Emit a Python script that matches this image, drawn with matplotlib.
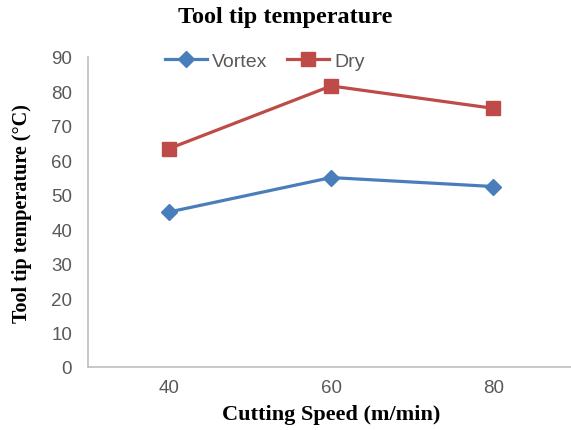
import matplotlib
matplotlib.use("Agg")
import matplotlib.pyplot as plt

speeds = ["40", "60", "80"]
vortex = [45.0, 55.0, 52.4]
dry = [63.4, 81.6, 75.1]
y_ticks = [0, 10, 20, 30, 40, 50, 60, 70, 80, 90]

fig = plt.figure(figsize=(5.71, 4.31), dpi=100)
ax = fig.add_axes([88 / 571, 1 - 368 / 431, 1 - 88 / 571, (368 - 58) / 431])

x = range(len(speeds))
ax.plot(x, vortex, color="#4A7EBB", lw=2.3, marker="D", ms=8,
        mfc="#4A7EBB", mec="#4A7EBB", label="Vortex")
ax.plot(x, dry, color="#BE4B48", lw=2.3, marker="s", ms=10,
        mfc="#BE4B48", mec="#BE4B48", label="Dry")

ax.set_xlim(-0.5, 2.48)
ax.set_ylim(0, 90)
ax.set_xticks(list(x))
ax.set_xticklabels(speeds)
ax.set_yticks(y_ticks)

for s in ["top", "right"]:
    ax.spines[s].set_visible(False)
for s in ["left", "bottom"]:
    ax.spines[s].set_color("#BFBFBF")
    ax.spines[s].set_linewidth(1.2)

ax.tick_params(axis="both", length=0, labelsize=13.5, labelcolor="#595959")
ax.tick_params(axis="y", pad=11.5)
ax.tick_params(axis="x", pad=8.5)
for lbl in ax.get_xticklabels() + ax.get_yticklabels():
    lbl.set_fontfamily("Liberation Sans")

serif = "Liberation Serif"
fig.text(285 / 571, 1 - 18 / 431, "Tool tip temperature", ha="center", va="center",
         fontsize=17.5, fontweight="bold", family=serif)
fig.text(22 / 571, 1 - 214 / 431, "Tool tip temperature (°C)", ha="center",
         va="center", rotation=90, fontsize=14.5, fontweight="bold", family=serif)
fig.text(331 / 571, 1 - 415 / 431, "Cutting Speed (m/min)", ha="center",
         va="center", fontsize=16, fontweight="bold", family=serif)

leg = ax.legend(loc="center", bbox_to_anchor=(265 / 571, 1 - 62 / 431),
                bbox_transform=fig.transFigure, ncol=2, frameon=False,
                handlelength=2.15, columnspacing=1.0, handletextpad=0.26,
                borderpad=0, prop={"family": "Liberation Sans", "size": 14})
for t in leg.get_texts():
    t.set_color("#595959")

fig.savefig("out.png", dpi=100)
